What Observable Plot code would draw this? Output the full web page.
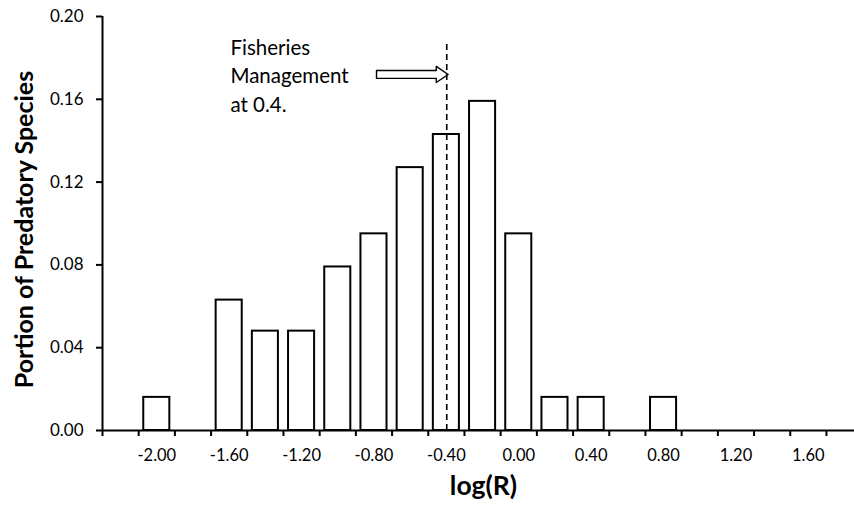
<!DOCTYPE html>
<html>
<head>
<meta charset="utf-8">
<script src="https://cdn.jsdelivr.net/npm/d3@7"></script>
<script src="https://cdn.jsdelivr.net/npm/@observablehq/plot@0.6"></script>
<style>
  html, body { margin: 0; padding: 0; background: #fff; }
  #chart { width: 854px; height: 508px; }
</style>
</head>
<body>
<div id="chart"></div>
<script>
// Bin centers (log R) and portion of predatory species
const binCenters = [-2.2, -2.0, -1.8, -1.6, -1.4, -1.2, -1.0, -0.8, -0.6, -0.4, -0.2, 0.0, 0.2, 0.4, 0.6, 0.8, 1.0, 1.2, 1.4, 1.6, 1.8];
const portions   = [0, 0.016, 0, 0.063, 0.048, 0.048, 0.079, 0.095, 0.127, 0.143, 0.159, 0.095, 0.016, 0.016, 0, 0.016, 0, 0, 0, 0, 0];
const binWidth = 0.2;

const xTickLabels = [-2.0, -1.6, -1.2, -0.8, -0.4, 0.0, 0.4, 0.8, 1.2, 1.6];
const yTicks = [0, 0.04, 0.08, 0.12, 0.16, 0.20];

// annotation
const managementX = [Math.log10(0.4)];
const managementTop = [0.187];
const noteText = ["Fisheries\nManagement\nat 0.4."];
const noteX = [-1.593];
const noteY = [0.172];
const arrowFrom = [-0.786];
const arrowTo = [-0.39];
const arrowY = [0.172];

const bars = binCenters.map((c, i) => ({x1: c - binWidth * 0.36, x2: c + binWidth * 0.36, y: portions[i]}))
  .filter(d => d.y > 0);
const binEdges = binCenters.map(c => +(c - binWidth / 2).toFixed(2));

// hollow block arrow outline built from annotation values
const shaftH = 0.0019, headH = 0.0039, headL = 0.066;
const ax0 = arrowFrom[0], ax1 = arrowTo[0], ay = arrowY[0];
const arrowPts = [
  [ax0, ay - shaftH], [ax1 - headL, ay - shaftH], [ax1 - headL, ay - headH], [ax1, ay],
  [ax1 - headL, ay + headH], [ax1 - headL, ay + shaftH], [ax0, ay + shaftH], [ax0, ay - shaftH]
];

const font = "Lato, 'Open Sans', sans-serif";

const chart = Plot.plot({
  width: 854,
  height: 508,
  marginLeft: 102,
  marginRight: 0,
  marginTop: 16,
  marginBottom: 78,
  style: {fontFamily: font, fontSize: "16px", color: "#000", background: "#fff"},
  x: {domain: [-2.3, 1.855], label: null},
  y: {domain: [0, 0.2], label: null},
  marks: [
    Plot.rectY(bars, {x1: "x1", x2: "x2", y: "y", fill: "white", stroke: "black", strokeWidth: 2}),
    Plot.ruleX(managementX, {y1: 0, y2: managementTop[0], stroke: "black", strokeWidth: 1.6, strokeDasharray: "6,4"}),
    Plot.line(arrowPts, {x: d => d[0], y: d => d[1], stroke: "black", strokeWidth: 1.4, curve: "linear"}),
    Plot.text(noteText, {x: noteX[0], y: noteY[0], textAnchor: "start", lineAnchor: "middle", lineHeight: 1.37, fontSize: 20.5, fill: "black"}),
    Plot.axisX({ticks: binEdges, tickFormat: () => "", tickSize: 6, strokeWidth: 2, anchor: "bottom"}),
    Plot.axisX({ticks: xTickLabels, tickFormat: d => d.toFixed(2), tickSize: 0, tickPadding: 19, fontSize: 16.5, anchor: "bottom"}),
    Plot.axisY({ticks: yTicks, tickFormat: d => d.toFixed(2), tickSize: 6, tickPadding: 13, strokeWidth: 2, fontSize: 17, anchor: "left"}),
    Plot.ruleY([0], {stroke: "black", strokeWidth: 2}),
    Plot.ruleX([-2.3], {stroke: "black", strokeWidth: 2}),
    Plot.text(["Portion of Predatory Species"], {frameAnchor: "left", textAnchor: "middle", rotate: -90, dx: -78, dy: 6, fontSize: 25, fontWeight: "bold", fill: "black"}),
    Plot.text(["log(R)"], {frameAnchor: "bottom", dx: 5, dy: 64, fontSize: 26.5, fontWeight: "bold", fill: "black"})
  ]
});
document.getElementById("chart").appendChild(chart);
</script>
</body>
</html>
